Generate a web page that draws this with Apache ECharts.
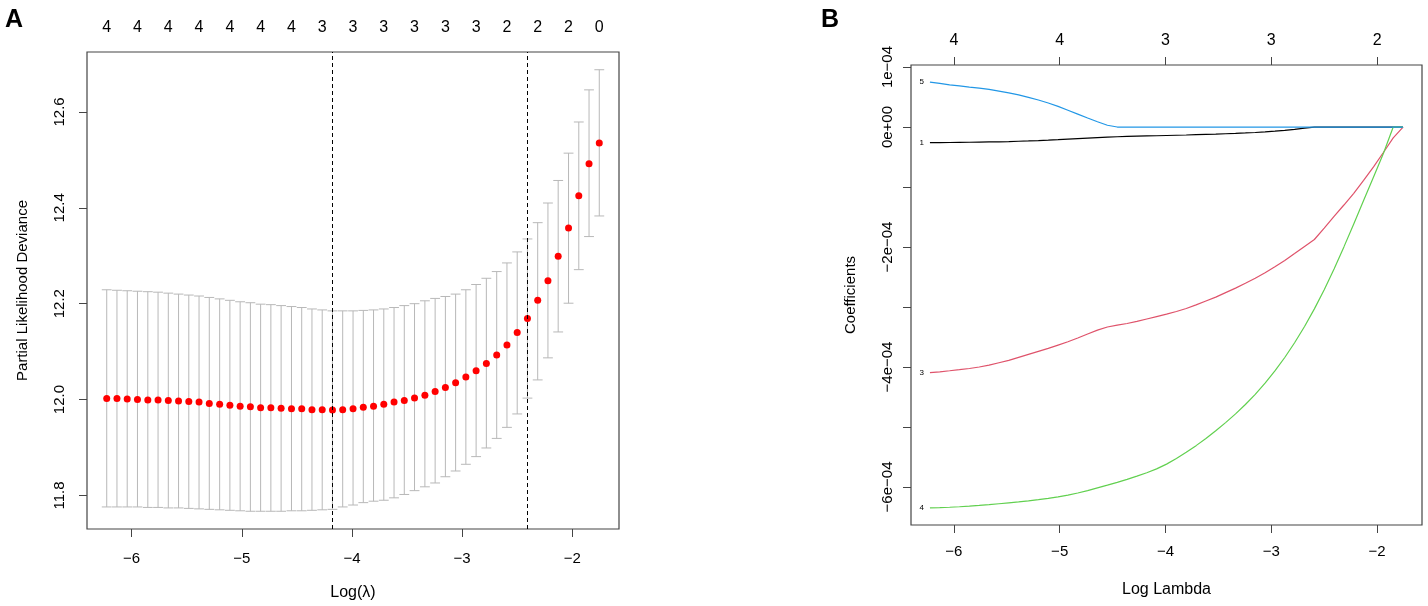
<!DOCTYPE html>
<html>
<head>
<meta charset="utf-8">
<script src="https://cdn.jsdelivr.net/npm/echarts@6/dist/echarts.min.js"></script>
<style>
html, body { margin: 0; padding: 0; background: #fff; }
#container { width: 1428px; height: 606px; }
</style>
</head>
<body>
<div id="container"></div>
<script>
// log(lambda) path, shared by both panels
var logLambda = [
  -6.226, -6.133, -6.040, -5.947, -5.853, -5.760, -5.667, -5.574, -5.481, -5.388,
  -5.295, -5.201, -5.108, -5.015, -4.922, -4.829, -4.736, -4.643, -4.549, -4.456,
  -4.363, -4.270, -4.177, -4.084, -3.990, -3.897, -3.804, -3.711, -3.618, -3.525,
  -3.432, -3.338, -3.245, -3.152, -3.059, -2.966, -2.873, -2.780, -2.686, -2.593,
  -2.500, -2.407, -2.314, -2.221, -2.128, -2.034, -1.941, -1.848, -1.755
];

// Panel A: cross-validated partial likelihood deviance
var cvMean = [
  12.002, 12.002, 12.001, 12.000, 11.999, 11.999, 11.998, 11.997, 11.996, 11.995,
  11.992, 11.990, 11.988, 11.986, 11.985, 11.983, 11.983, 11.982, 11.981, 11.981,
  11.979, 11.979, 11.978, 11.979, 11.981, 11.984, 11.986, 11.990, 11.995, 11.998,
  12.003, 12.009, 12.017, 12.025, 12.035, 12.047, 12.060, 12.075, 12.093, 12.114,
  12.140, 12.169, 12.207, 12.248, 12.299, 12.358, 12.425, 12.492, 12.535
];
var cvUpper = [
  12.229, 12.228, 12.227, 12.226, 12.225, 12.224, 12.222, 12.220, 12.218, 12.216,
  12.213, 12.210, 12.207, 12.204, 12.202, 12.199, 12.198, 12.196, 12.194, 12.192,
  12.189, 12.187, 12.185, 12.185, 12.185, 12.186, 12.187, 12.189, 12.192, 12.196,
  12.200, 12.206, 12.211, 12.215, 12.220, 12.229, 12.240, 12.253, 12.267, 12.285,
  12.308, 12.335, 12.369, 12.410, 12.457, 12.514, 12.579, 12.646, 12.688
];
var cvLower = [
  11.776, 11.776, 11.776, 11.776, 11.775, 11.775, 11.774, 11.774, 11.773, 11.772,
  11.771, 11.770, 11.769, 11.768, 11.767, 11.767, 11.767, 11.767, 11.768, 11.768,
  11.769, 11.770, 11.771, 11.776, 11.780, 11.785, 11.788, 11.790, 11.795, 11.802,
  11.810, 11.818, 11.826, 11.839, 11.851, 11.865, 11.881, 11.899, 11.919, 11.942,
  11.970, 12.003, 12.041, 12.087, 12.141, 12.201, 12.271, 12.340, 12.383
];
var minIndex = 22;   // lambda.min
var se1Index = 41;   // lambda.1se
var topCountsA = [4, 4, 4, 4, 4, 4, 4, 3, 3, 3, 3, 3, 3, 2, 2, 2, 0];
var yTicksA = [11.8, 12.0, 12.2, 12.4, 12.6];

// Panel B: coefficient paths (units of 1e-04)
var coefNames = ['1', '3', '4', '5'];
var coef1 = [
  -0.260, -0.259, -0.258, -0.256, -0.254, -0.252, -0.249, -0.246, -0.242, -0.237,
  -0.232, -0.226, -0.219, -0.211, -0.202, -0.193, -0.184, -0.175, -0.167, -0.162,
  -0.157, -0.153, -0.149, -0.145, -0.141, -0.137, -0.133, -0.128, -0.123, -0.118,
  -0.112, -0.106, -0.099, -0.091, -0.081, -0.069, -0.055, -0.038, -0.019, -0.002,
  0, 0, 0, 0, 0, 0, 0, 0, 0
];
var coef3 = [
  -4.095, -4.080, -4.063, -4.045, -4.025, -4.000, -3.970, -3.930, -3.890, -3.840,
  -3.790, -3.740, -3.690, -3.635, -3.580, -3.517, -3.450, -3.385, -3.333, -3.303,
  -3.275, -3.240, -3.200, -3.160, -3.120, -3.075, -3.025, -2.965, -2.900, -2.835,
  -2.760, -2.685, -2.605, -2.520, -2.430, -2.330, -2.225, -2.110, -1.990, -1.875,
  -1.685, -1.490, -1.300, -1.105, -0.890, -0.665, -0.425, -0.180, 0
];
var coef4 = [
  -6.350, -6.345, -6.338, -6.330, -6.320, -6.308, -6.295, -6.280, -6.265, -6.250,
  -6.232, -6.212, -6.190, -6.165, -6.135, -6.100, -6.060, -6.015, -5.970, -5.923,
  -5.873, -5.820, -5.763, -5.699, -5.619, -5.526, -5.423, -5.311, -5.191, -5.063,
  -4.927, -4.782, -4.626, -4.456, -4.270, -4.066, -3.842, -3.596, -3.326, -3.031,
  -2.711, -2.366, -1.998, -1.615, -1.225, -0.833, -0.440, 0, 0
];
var coef5 = [
  0.750, 0.728, 0.704, 0.685, 0.665, 0.648, 0.628, 0.600, 0.570, 0.536,
  0.495, 0.450, 0.400, 0.345, 0.280, 0.215, 0.150, 0.088, 0.030, 0,
  0, 0, 0, 0, 0, 0, 0, 0, 0, 0,
  0, 0, 0, 0, 0, 0, 0, 0, 0, 0,
  0, 0, 0, 0, 0, 0, 0, 0, 0
];
var coefColors = ['#000000', '#DF536B', '#61D04F', '#2297E6'];
var topTicksB = [-6, -5, -4, -3, -2];
var topCountsB = [4, 4, 3, 3, 2];
var yTicksB = [-6, -5, -4, -3, -2, -1, 0, 1];
var yLabelTicksB = [-6, -4, -2, 0, 1];

var FONT = "'Liberation Sans', Arial, sans-serif";
var NARROW = "'Liberation Sans Narrow', 'Liberation Sans', Arial, sans-serif";
var AXIS_COL = '#444';

// plot range like R (4% padding)
var xMin = -6.405, xMax = -1.576;

var topPosA = [];
for (var i = 0; i < logLambda.length; i += 3) topPosA.push(logLambda[i]);
function nearestIdx(arr, v) {
  var best = 0;
  for (var k = 1; k < arr.length; k++) {
    if (Math.abs(arr[k] - v) < Math.abs(arr[best] - v)) best = k;
  }
  return best;
}
function rMinus(s) { return String(s).replace(/-/g, '\u2212'); }

var barHalf = 0.01 * (logLambda[logLambda.length - 1] - logLambda[0]);
function renderBars(params, api) {
  var x = api.value(0);
  var pLo = api.coord([x, api.value(1)]);
  var pHi = api.coord([x, api.value(2)]);
  var w = api.coord([x + barHalf, api.value(1)])[0] - pLo[0];
  var st = { stroke: '#b8b8b8', lineWidth: 1 };
  return {
    type: 'group',
    children: [
      { type: 'line', shape: { x1: pLo[0], y1: pLo[1], x2: pHi[0], y2: pHi[1] }, style: st },
      { type: 'line', shape: { x1: pLo[0] - w, y1: pHi[1], x2: pLo[0] + w, y2: pHi[1] }, style: st },
      { type: 'line', shape: { x1: pLo[0] - w, y1: pLo[1], x2: pLo[0] + w, y2: pLo[1] }, style: st }
    ]
  };
}

var barData = logLambda.map(function (x, k) { return [x, cvLower[k], cvUpper[k]]; });
var meanData = logLambda.map(function (x, k) { return [x, cvMean[k]]; });

var coefs = [coef1, coef3, coef4, coef5];
var coefSeries = coefs.map(function (c, j) {
  return {
    type: 'line',
    name: coefNames[j],
    xAxisIndex: 2,
    yAxisIndex: 1,
    showSymbol: false,
    silent: true,
    z: 3 + j,
    lineStyle: { color: coefColors[j], width: 1.2 },
    data: logLambda.map(function (x, k) { return [x, c[k]]; }),
    markPoint: {
      symbol: 'circle',
      symbolSize: 0,
      silent: true,
      label: {
        show: true, position: 'left', distance: 6, color: '#000',
        fontSize: 8, fontFamily: FONT, formatter: coefNames[j]
      },
      data: [{ coord: [logLambda[0], c[0]] }]
    }
  };
});

var dom = document.getElementById('container');
var myChart = echarts.init(dom, null, { renderer: 'canvas' });

var tickStyle = { show: true, length: 8, lineStyle: { color: AXIS_COL, width: 1 } };
var noLine = { show: false, onZero: false };

var option = {
  animation: false,
  backgroundColor: '#fff',
  title: [
    { text: 'A', left: 0, top: 3, textStyle: { fontSize: 25, fontWeight: 'bold', fontFamily: FONT, color: '#000' } },
    { text: 'B', left: 816, top: 3, textStyle: { fontSize: 25, fontWeight: 'bold', fontFamily: FONT, color: '#000' } }
  ],
  grid: [
    { left: 87, top: 52, width: 532, height: 479, show: true, borderColor: AXIS_COL, borderWidth: 1.2, backgroundColor: 'transparent' },
    { left: 911, top: 65, width: 511, height: 460, show: true, borderColor: AXIS_COL, borderWidth: 1.2, backgroundColor: 'transparent' }
  ],
  xAxis: [
    {
      gridIndex: 0, type: 'value', min: xMin, max: xMax,
      name: 'Log(\u03bb)', nameLocation: 'middle', nameGap: 56,
      nameTextStyle: { fontSize: 16, fontFamily: NARROW, color: '#000' },
      axisLine: noLine, splitLine: { show: false },
      axisTick: Object.assign({ customValues: [-6, -5, -4, -3, -2] }, tickStyle),
      axisLabel: { customValues: [-6, -5, -4, -3, -2], margin: 22, fontSize: 15, fontFamily: FONT, color: '#000', formatter: rMinus }
    },
    {
      gridIndex: 0, type: 'value', position: 'top', min: xMin, max: xMax,
      axisLine: noLine, splitLine: { show: false }, axisTick: { show: false },
      axisLabel: {
        customValues: topPosA, margin: 16, fontSize: 16, fontFamily: NARROW, color: '#000',
        formatter: function (v) { return String(topCountsA[nearestIdx(topPosA, v)]); }
      }
    },
    {
      gridIndex: 1, type: 'value', min: xMin, max: xMax,
      name: 'Log Lambda', nameLocation: 'middle', nameGap: 57,
      nameTextStyle: { fontSize: 16, fontFamily: NARROW, color: '#000' },
      axisLine: noLine, splitLine: { show: false },
      axisTick: Object.assign({ customValues: topTicksB }, tickStyle),
      axisLabel: { customValues: topTicksB, margin: 19, fontSize: 15, fontFamily: FONT, color: '#000', formatter: rMinus }
    },
    {
      gridIndex: 1, type: 'value', position: 'top', min: xMin, max: xMax,
      axisLine: noLine, splitLine: { show: false },
      axisTick: Object.assign({ customValues: topTicksB }, tickStyle),
      axisLabel: {
        customValues: topTicksB, margin: 16, fontSize: 16, fontFamily: NARROW, color: '#000',
        formatter: function (v) { return String(topCountsB[nearestIdx(topTicksB, v)]); }
      }
    }
  ],
  yAxis: [
    {
      gridIndex: 0, type: 'value', min: 11.730, max: 12.725,
      name: 'Partial Likelihood Deviance', nameLocation: 'middle', nameGap: 57, nameRotate: 90,
      nameTextStyle: { fontSize: 15, fontFamily: FONT, color: '#000' },
      axisLine: noLine, splitLine: { show: false },
      axisTick: Object.assign({ customValues: yTicksA }, tickStyle),
      axisLabel: {
        customValues: yTicksA, rotate: 90, margin: 20, fontSize: 15, fontFamily: FONT, color: '#000',
        formatter: function (v) { return v.toFixed(1); }
      }
    },
    {
      gridIndex: 1, type: 'value', min: -6.634, max: 1.034,
      name: 'Coefficients', nameLocation: 'middle', nameGap: 53, nameRotate: 90,
      nameTextStyle: { fontSize: 15, fontFamily: FONT, color: '#000' },
      axisLine: noLine, splitLine: { show: false },
      axisTick: Object.assign({ customValues: yTicksB }, tickStyle),
      axisLabel: {
        customValues: yLabelTicksB, rotate: 90, margin: 16, fontSize: 15, fontFamily: FONT, color: '#000',
        formatter: function (v) {
          if (Math.abs(v) < 1e-9) return '0e+00';
          return rMinus((v < 0 ? '-' : '') + Math.abs(Math.round(v)) + 'e-04');
        }
      }
    }
  ],
  series: [
    {
      type: 'custom', xAxisIndex: 0, yAxisIndex: 0, silent: true,
      renderItem: renderBars, encode: { x: 0, y: [1, 2] }, data: barData, z: 2
    },
    {
      type: 'scatter', xAxisIndex: 0, yAxisIndex: 0, silent: true,
      symbolSize: 7, itemStyle: { color: '#ff0000', opacity: 1 }, data: meanData, z: 4,
      markLine: {
        silent: true, symbol: ['none', 'none'], label: { show: false },
        lineStyle: { color: '#000', type: [4, 3], width: 1, opacity: 1 },
        data: [{ xAxis: logLambda[minIndex] }, { xAxis: logLambda[se1Index] }]
      }
    }
  ].concat(coefSeries)
};

myChart.setOption(option);

window.addEventListener('resize', function () {
  myChart.resize();
});
</script>
</body>
</html>
